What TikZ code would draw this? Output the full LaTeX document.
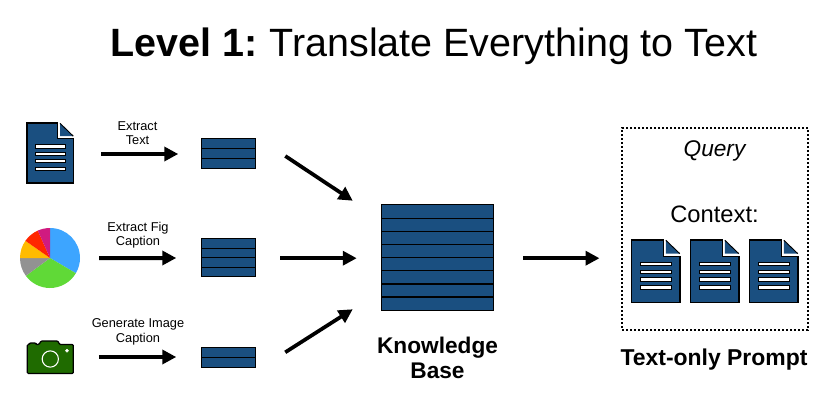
\documentclass[tikz,border=0pt]{standalone}
\usepackage{fontspec}
\setmainfont{Liberation Sans}
\usetikzlibrary{arrows.meta,calc}
\definecolor{dblue}{HTML}{1A4F80}
\definecolor{pieblue}{HTML}{3DA5FF}
\definecolor{piegreen}{HTML}{60D937}
\definecolor{piegray}{HTML}{929292}
\definecolor{pieorange}{HTML}{FFBB00}
\definecolor{piered}{HTML}{FF2600}
\definecolor{piemag}{HTML}{D01A80}
\definecolor{camgreen}{HTML}{1F6B00}
\tikzset{
  x=0.75pt,y=-0.75pt,
  arr/.style={line width=3pt,-{Triangle[length=10.5pt,width=10.5pt]}},
  arrthin/.style={line width=2.8pt,-{Triangle[length=10.5pt,width=10.5pt]}},
  stackbox/.style={draw=black,fill=dblue,line width=0.9pt,inner sep=0pt,outer sep=0pt},
  divider/.style={draw=black,line width=0.8pt},
  ghost/.style={inner sep=0pt,outer sep=0pt},
  label/.style={font=\fontsize{9.6pt}{10.8pt}\selectfont,align=center,inner sep=0pt},
  blabel/.style={font=\fontsize{17pt}{19pt}\selectfont\bfseries,align=center,inner sep=0pt},
}
% name, left, top, width, height
\newcommand{\docicon}[5]{%
  \node[ghost,minimum width=#4*0.75pt,minimum height=#5*0.75pt] (#1) at (#2+#4/2,#3+#5/2) {};
  \begin{scope}[shift={(#2,#3)},xscale=#4/49,yscale=#5/62]
    \draw[fill=dblue,line width=0.9pt,line join=miter] (0,0) -- (32,0) -- (32,16) -- (49,16) -- (49,62) -- (0,62) -- cycle;
    \draw[white,line width=1.4pt] (33.7,0) -- (33.7,14.5) -- (49.6,14.5);
    \fill[dblue] (34.8,0.5) -- (48.5,13.6) -- (34.8,13.6) -- cycle;
    \draw[line width=0.7pt] (34.8,0.3) -- (48.8,13.6);
    \foreach \ly in {24,31.5,39,47}{
      \draw[fill=white,line width=0.5pt] (9,\ly-1.7) rectangle (40,\ly+1.7);
    }
  \end{scope}
}
\begin{document}
\begin{tikzpicture}
\useasboundingbox (0,0) rectangle (839,411);

\node[inner sep=0pt,anchor=base,font=\fontsize{29.6pt}{36pt}\selectfont] (title) at (434,56) {\textbf{Level 1:}\hspace{-2pt} Translate Everything to Text};

% sources
\docicon{docA}{27}{123}{46.5}{60}

\node[ghost,minimum width=60*0.75pt,minimum height=60*0.75pt] (pie) at (50,258) {};
\begin{scope}[shift={(50,258)}]
  \fill[pieblue] (0,0) -- (90:22.5pt) arc[start angle=90,end angle=-30.5,radius=22.5pt] -- cycle;
  \fill[piegreen] (0,0) -- (-30.5:22.5pt) arc[start angle=-30.5,end angle=-143.5,radius=22.5pt] -- cycle;
  \fill[piegray] (0,0) -- (216.5:22.5pt) arc[start angle=216.5,end angle=180,radius=22.5pt] -- cycle;
  \fill[pieorange] (0,0) -- (180:22.5pt) arc[start angle=180,end angle=145,radius=22.5pt] -- cycle;
  \fill[piered] (0,0) -- (145:22.5pt) arc[start angle=145,end angle=114,radius=22.5pt] -- cycle;
  \fill[piemag] (0,0) -- (114:22.5pt) arc[start angle=114,end angle=90,radius=22.5pt] -- cycle;
\end{scope}

\node[ghost,minimum width=46.5*0.75pt,minimum height=33*0.75pt] (cam) at (50.2,357.2) {};
\draw[fill=camgreen,line width=0.9pt,line join=round,rounded corners=0.8pt]
  (27.3,373.5) -- (27.3,344.5) -- (29.5,344.5) -- (29.5,343) -- (36,343) -- (36,344.5) -- (39,344.5)
  -- (41,341) -- (58,341) -- (59.5,344.5) -- (73.3,344.5) -- (73.3,373.5) -- cycle;
\draw[white,line width=0.8pt] (50.3,359) circle[radius=6.1pt];
\draw[white,fill=white] (67,350.7) circle[radius=1.1pt];

% stacks
\node[stackbox,minimum width=54.5*0.75pt,minimum height=30.5*0.75pt] (stA) at (228.5,153.5) {};
\foreach \dy in {148.5,158.5}{\draw[divider] (stA.west |- 0,\dy) -- (stA.east |- 0,\dy);}
\node[stackbox,minimum width=54.5*0.75pt,minimum height=38*0.75pt] (stB) at (228.5,257.7) {};
\foreach \dy in {248.2,257.7,267.2}{\draw[divider] (stB.west |- 0,\dy) -- (stB.east |- 0,\dy);}
\node[stackbox,minimum width=54.5*0.75pt,minimum height=20*0.75pt] (stC) at (228.5,357.3) {};
\draw[divider] (stC.west |- 0,357.3) -- (stC.east |- 0,357.3);

\node[stackbox,minimum width=112.5*0.75pt,minimum height=106.5*0.75pt] (kb) at (437.5,257.5) {};
\foreach \dy in {218.3,231.3,244.6,257.6,270.6,297}{\draw[divider] (kb.west |- 0,\dy) -- (kb.east |- 0,\dy);}
\draw[divider,line width=1.4pt] (kb.west |- 0,283.9) -- (kb.east |- 0,283.9);

% prompt box
\node[draw=black,line width=1.5pt,dash pattern=on 1.5pt off 1.5pt,inner sep=0pt,outer sep=0pt,minimum width=186*0.75pt,minimum height=202*0.75pt] (prompt) at (715,229) {};
\node[inner sep=0pt,anchor=base,font=\fontsize{17pt}{19pt}\selectfont\itshape] (query) at (714.5,156) {Query};
\node[inner sep=0pt,anchor=base,font=\fontsize{17.8pt}{19pt}\selectfont] (context) at (714.5,222) {Context:};
\docicon{docB}{631.3}{240}{48.7}{62.3}
\docicon{docC}{690.3}{240}{48.7}{62.3}
\docicon{docD}{749.3}{240}{48.7}{62.3}

% connectors
\draw[arr] ($(docA.east)+(27.5,1)$) -- ($(stA.west)+(-23,0.5)$);
\draw[arr] ($(pie.east)+(19,0)$) -- ($(stB.west)+(-25,0.3)$);
\draw[arr] ($(cam.east)+(25.5,-0.2)$) -- ($(stC.west)+(-25,-0.3)$);
\draw[arrthin] ($(stA.east)+(29.5,2.5)$) -- ($(kb.north west)+(-28.5,-3.5)$);
\draw[arrthin] ($(stB.east)+(24.5,0.5)$) -- ($(kb.west)+(-24.5,0.7)$);
\draw[arrthin] ($(stC.east)+(29.5,-5)$) -- ($(kb.south west)+(-28.5,-1.5)$);
\draw[arrthin] ($(kb.east)+(29.5,0.7)$) -- ($(prompt.west)+(-22.5,29.2)$);

% labels
\node[label] (lA) at (137.5,133) {Extract\\Text};
\node[label] (lB) at (138,235) {Extract Fig\\Caption};
\node[label] (lC) at (138,332) {Generate Image\\Caption};
\node[blabel] (lK) at (437.5,358) {Knowledge\\Base};
\node[inner sep=0pt,anchor=base,font=\fontsize{17.2pt}{19pt}\selectfont\bfseries] (lP) at (714,365) {Text-only Prompt};
\end{tikzpicture}
\end{document}
